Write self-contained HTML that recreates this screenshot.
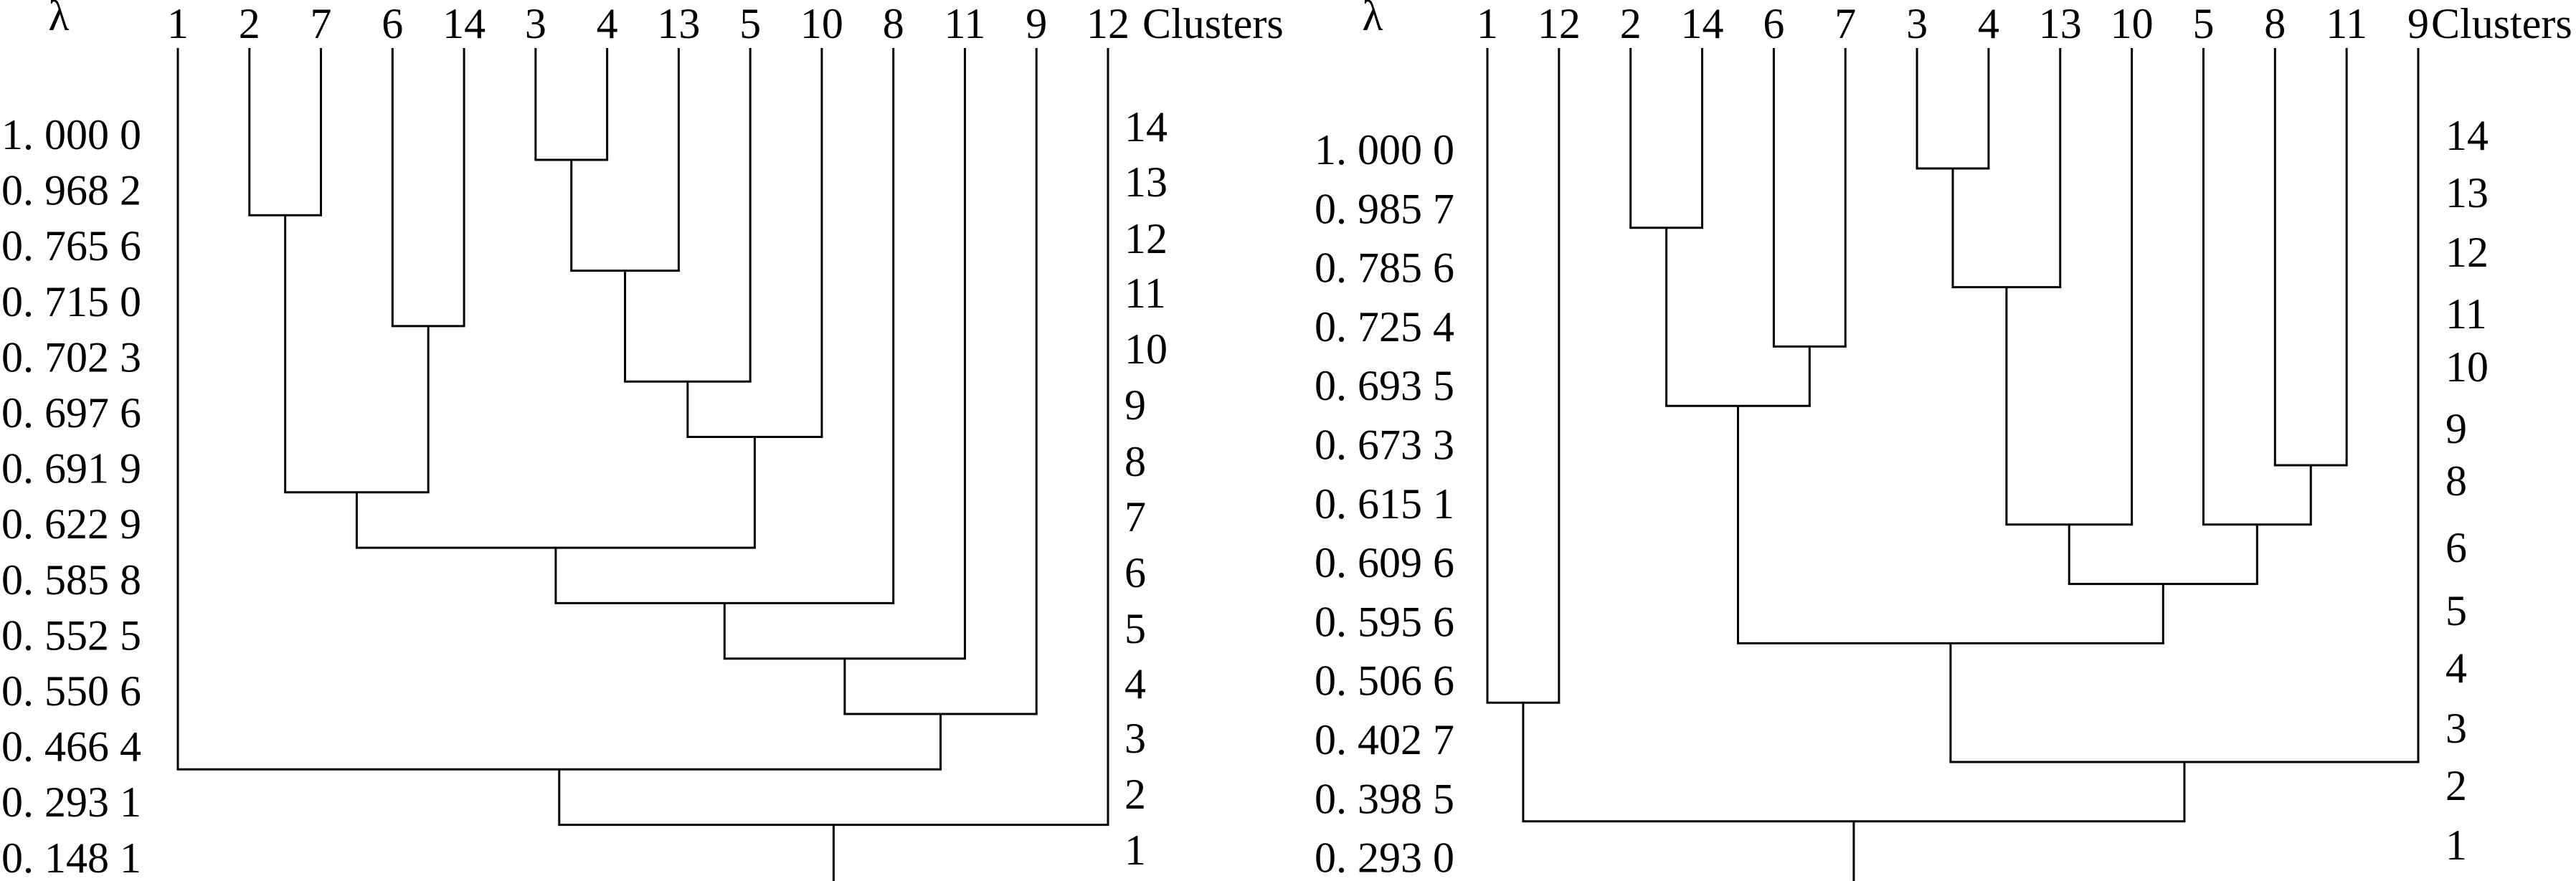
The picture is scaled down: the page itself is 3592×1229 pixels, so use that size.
<!DOCTYPE html>
<html><head><meta charset="utf-8"><style>
html,body{margin:0;padding:0;background:#fff;}
svg{display:block;}
text{font-family:"Liberation Serif","Noto Serif CJK SC",serif;font-size:60px;fill:#000;}
</style></head><body>
<svg id="chart" width="3592" height="1229" viewBox="0 0 3592 1229" xmlns="http://www.w3.org/2000/svg"></svg>
<script>
// ---- Left dendrogram data ----
const leftLeaves = ["1","2","7","6","14","3","4","13","5","10","8","11","9","12"];
const leftLambda = ["1. 000 0","0. 968 2","0. 765 6","0. 715 0","0. 702 3","0. 697 6","0. 691 9","0. 622 9","0. 585 8","0. 552 5","0. 550 6","0. 466 4","0. 293 1","0. 148 1"];
// merges: [childA, childB, level]; children are leaf labels or "m<i>"
const leftMerges = [["3","4",0],["2","7",1],["m0","13",2],["6","14",3],["m2","5",4],["m4","10",5],["m1","m3",6],["m6","m5",7],["m7","8",8],["m8","11",9],["m9","9",10],["1","m10",11],["m11","12",12]];
const leftClusters = ["14","13","12","11","10","9","8","7","6","5","4","3","2","1"];
// ---- Right dendrogram data ----
const rightLeaves = ["1","12","2","14","6","7","3","4","13","10","5","8","11","9"];
const rightLambda = ["1. 000 0","0. 985 7","0. 785 6","0. 725 4","0. 693 5","0. 673 3","0. 615 1","0. 609 6","0. 595 6","0. 506 6","0. 402 7","0. 398 5","0. 293 0"];
const rightMerges = [["3","4",0],["2","14",1],["m0","13",2],["6","7",3],["m1","m3",4],["8","11",5],["m2","10",6],["5","m5",6],["m6","m7",7],["m4","m8",8],["1","12",9],["m9","9",10],["m10","m11",11]];
const rightClusters = ["14","13","12","11","10","9","8","6","5","4","3","2","1"];

const svg=document.getElementById('chart');
const NS="http://www.w3.org/2000/svg";
function txt(x,y,s,anchor,name){const t=document.createElementNS(NS,'text');t.setAttribute('x',x);t.setAttribute('y',y);t.setAttribute('text-anchor',anchor);t.textContent=s;


svg.appendChild(t);return t;}
function ln(x1,y1,x2,y2,name){const l=document.createElementNS(NS,'line');l.setAttribute('x1',x1);l.setAttribute('y1',y1);l.setAttribute('x2',x2);l.setAttribute('y2',y2);l.setAttribute('stroke','#000');l.setAttribute('stroke-width','3');


svg.appendChild(l);}

function draw(cfg){
  const {leaves,lambda,merges,clusters,x0,x1,leafTop,levelY0,levelStep,lamX,lamY0,lamStep,clX,clYs,clustersX,lambdaX,prefix}=cfg;
  const xs=i=>x0+i*(x1-x0)/(leaves.length-1);
  const pos={};
  leaves.forEach((l,i)=>{pos[l]={x:xs(i),y:leafTop};txt(xs(i),53,l,'middle',prefix+'-leaf-label-'+l);});
  const yOf=lv=>levelY0+lv*levelStep;
  merges.forEach((m,i)=>{
    const a=pos[m[0]],b=pos[m[1]],y=yOf(m[2]);
    ln(a.x,a.y,a.x,y,prefix+'-branch');
    ln(b.x,b.y,b.x,y,prefix+'-branch');
    ln(a.x-1.5,y,b.x+1.5,y,prefix+'-merge-'+i);
    pos['m'+i]={x:(a.x+b.x)/2,y:y};
  });
  const root=pos['m'+(merges.length-1)];
  ln(root.x,root.y,root.x,1229,prefix+'-root-stem');
  lambda.forEach((s,i)=>txt(lamX,lamY0+i*lamStep+21,s,'start',prefix+'-lambda-value'));
  clusters.forEach((s,i)=>txt(clX,clYs[i]+21,s,'start',prefix+'-cluster-count'));
  txt(lambdaX,42,'λ','middle',prefix+'-lambda-title');
  txt(clustersX,53,'Clusters','start',prefix+'-clusters-title');
}
draw({prefix:'left',leaves:leftLeaves,lambda:leftLambda,merges:leftMerges,clusters:leftClusters,
  x0:248,x1:1545,leafTop:67,levelY0:223,levelStep:77.3,lamX:2,lamY0:187,lamStep:77.6,clX:1568,
  clYs:[176,253,332,408,486,564,643,720,798,876,953,1029,1107,1185],clustersX:1593,lambdaX:82});
draw({prefix:'right',leaves:rightLeaves,lambda:rightLambda,merges:rightMerges,clusters:rightClusters,
  x0:2074,x1:3372,leafTop:67,levelY0:235,levelStep:82.8,lamX:1833,lamY0:208,lamStep:82.3,clX:3410,
  clYs:[188,268,351,437,511,597,670,763,851,931,1015,1095,1178],clustersX:3390,lambdaX:1914});
</script>
</body></html>
